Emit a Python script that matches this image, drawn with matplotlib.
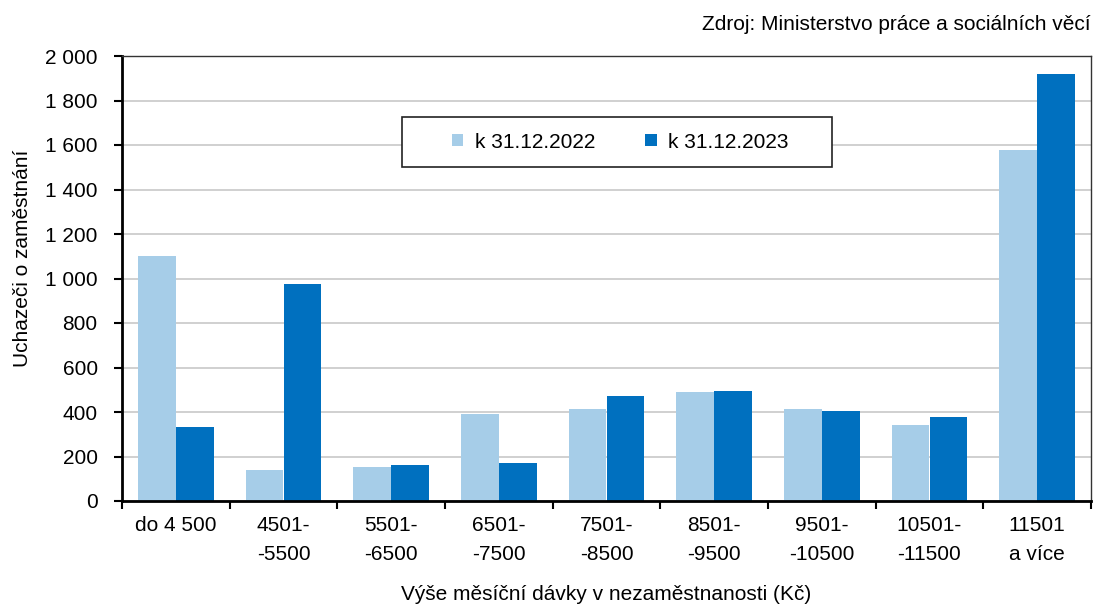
import numpy as np
import matplotlib.pyplot as plt
from matplotlib.patches import Patch, Rectangle

plt.rcParams['font.family'] = ['Liberation Sans', 'DejaVu Sans']

categories = ["do 4 500", "4501-\n-5500", "5501-\n-6500", "6501-\n-7500", "7501-\n-8500",
              "8501-\n-9500", "9501-\n-10500", "10501-\n-11500", "11501\na více"]
vals_2022 = [1100, 138, 155, 390, 412, 492, 414, 340, 1577]
vals_2023 = [332, 975, 164, 170, 474, 495, 405, 377, 1921]
series_names = ["k 31.12.2022", "k 31.12.2023"]
yticks = [0, 200, 400, 600, 800, 1000, 1200, 1400, 1600, 1800, 2000]
ytick_labels = ["0", "200", "400", "600", "800", "1 000", "1 200", "1 400", "1 600", "1 800", "2 000"]

c_light = "#a6cde8"
c_dark = "#0070bf"
fs = 15
W, H = 1097, 606

fig = plt.figure(figsize=(W / 100, H / 100), dpi=100)
ax = fig.add_axes([122 / W, 1 - 501 / H, (1091 - 122) / W, (501 - 56) / H])

x = np.arange(len(categories))
w = 0.35
ax.bar(x - w / 2, vals_2022, width=w, color=c_light, zorder=2)
ax.bar(x + w / 2, vals_2023, width=w, color=c_dark, zorder=2)

ax.set_xlim(-0.5, len(categories) - 0.5)
ax.set_ylim(0, 2000)
ax.set_yticks(yticks)
ax.set_yticklabels(ytick_labels, fontsize=fs)
ax.yaxis.grid(True, color="#c8c8c8", linewidth=1.2, zorder=0)
ax.set_axisbelow(True)

# category labels between boundary ticks
ax.set_xticks(np.arange(len(categories) + 1) - 0.5)
ax.set_xticklabels([])
ax.set_xticks(x, minor=True)
ax.set_xticklabels(categories, minor=True, fontsize=fs, linespacing=1.65, va="top")
ax.tick_params(axis="x", which="minor", length=0, pad=11)
ax.tick_params(axis="x", which="major", length=6, width=1.5, direction="out")
ax.tick_params(axis="y", length=6, width=1.5, direction="out", pad=11.5)

for s in ["left", "bottom"]:
    ax.spines[s].set_linewidth(2)
for s in ["top", "right"]:
    ax.spines[s].set_linewidth(1)
    ax.spines[s].set_color("#333333")

ax.set_ylabel("Uchazeči o zaměstnání", fontsize=fs)
ax.yaxis.set_label_coords((32 - 122) / 969, (501 - 258) / 445)
ax.set_xlabel("Výše měsíční dávky v nezaměstnanosti (Kč)", fontsize=fs)
ax.xaxis.set_label_coords(0.5, -(594 - 501) / 445)
ax.xaxis.label.set_va("center")

# legend frame drawn separately
fig.patches.append(Rectangle((402 / W, 1 - 167 / H), (832 - 402) / W, 50 / H,
                             transform=fig.transFigure, facecolor="white",
                             edgecolor="#222222", linewidth=1.2, zorder=5))
handles = [Patch(facecolor=c_light), Patch(facecolor=c_dark)]
leg = fig.legend(handles, series_names, ncol=2, fontsize=fs, loc="center left",
                 bbox_to_anchor=(452 / W, 1 - 142 / H), frameon=False,
                 handlelength=0.55, handleheight=0.55, columnspacing=2.4,
                 borderpad=0, handletextpad=0.55, borderaxespad=0)
leg.set_zorder(6)

fig.text(1091 / W, 1 - 25 / H, "Zdroj: Ministerstvo práce a sociálních věcí",
         ha="right", va="center", fontsize=fs)

fig.savefig("out.png", dpi=100)
